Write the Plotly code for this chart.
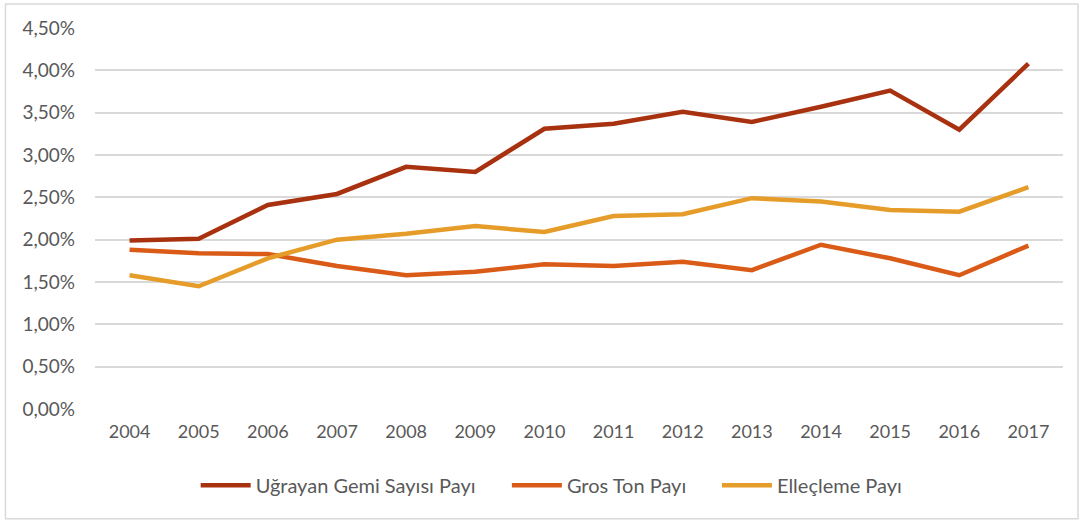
import plotly.graph_objects as go

years = ["2004", "2005", "2006", "2007", "2008", "2009", "2010",
         "2011", "2012", "2013", "2014", "2015", "2016", "2017"]

ugrayan_gemi = [0.0199, 0.0201, 0.0241, 0.0254, 0.0286, 0.0280, 0.0331,
                0.0337, 0.0351, 0.0339, 0.0357, 0.0376, 0.0330, 0.0408]
gros_ton = [0.0188, 0.0184, 0.0183, 0.0169, 0.0158, 0.0162, 0.0171,
            0.0169, 0.0174, 0.0164, 0.0194, 0.0178, 0.0158, 0.0193]
ellecleme = [0.0158, 0.0145, 0.0178, 0.0200, 0.0207, 0.0216, 0.0209,
             0.0228, 0.0230, 0.0249, 0.0245, 0.0235, 0.0233, 0.0262]

y_ticks = [i * 0.005 for i in range(10)]
y_tick_labels = ["0,00%", "0,50%", "1,00%", "1,50%", "2,00%",
                 "2,50%", "3,00%", "3,50%", "4,00%", "4,50%"]

series = [
    ("Uğrayan Gemi Sayısı Payı", ugrayan_gemi, "#A8320F", "legend", 0.104),
    ("Gros Ton Payı", gros_ton, "#D95B17", "legend2", 0.4255),
    ("Elleçleme Payı", ellecleme, "#E69C29", "legend3", 0.6425),
]

font_family = "Lato, 'Open Sans', sans-serif"
text_color = "#595959"

fig = go.Figure()
legend_layouts = {}
for name, values, color, legend_id, legend_x in series:
    fig.add_trace(go.Scatter(
        x=years, y=values, name=name, mode="lines",
        line=dict(color=color, width=4.5, shape="linear"),
        legend=legend_id,
    ))
    # one single-entry legend per series so each entry sits on its own spot
    legend_layouts[legend_id] = dict(
        orientation="h", x=legend_x, xanchor="left",
        y=-0.2, yanchor="middle",
        bgcolor="rgba(0,0,0,0)", borderwidth=0,
        font=dict(family=font_family, size=20, color=text_color),
        itemwidth=50,
    )

fig.update_layout(
    width=1084, height=522,
    margin=dict(l=95, r=21, t=28, b=113),
    paper_bgcolor="white", plot_bgcolor="white",
    font=dict(family=font_family, size=18, color=text_color),
    showlegend=True,
    xaxis=dict(
        type="category", range=[-0.5, 13.5],
        showgrid=False, zeroline=False, showline=False,
        ticks="", tickfont=dict(size=18, color=text_color),
        ticklabelstandoff=10,
    ),
    yaxis=dict(
        range=[0, 0.045], tickvals=y_ticks, ticktext=y_tick_labels,
        showgrid=True, gridcolor="#D9D9D9", gridwidth=1.5,
        zeroline=False, showline=False, ticks="",
        tickfont=dict(size=19, color=text_color),
        ticklabelstandoff=19,
    ),
    shapes=[dict(
        type="rect", xref="paper", yref="paper",
        x0=-0.0925, x1=1.0155, y0=-0.288, y1=1.063,
        line=dict(color="#D9D9D9", width=1.5), fillcolor="rgba(0,0,0,0)",
        layer="below",
    )],
    **legend_layouts,
)

fig.write_html("out.html")
